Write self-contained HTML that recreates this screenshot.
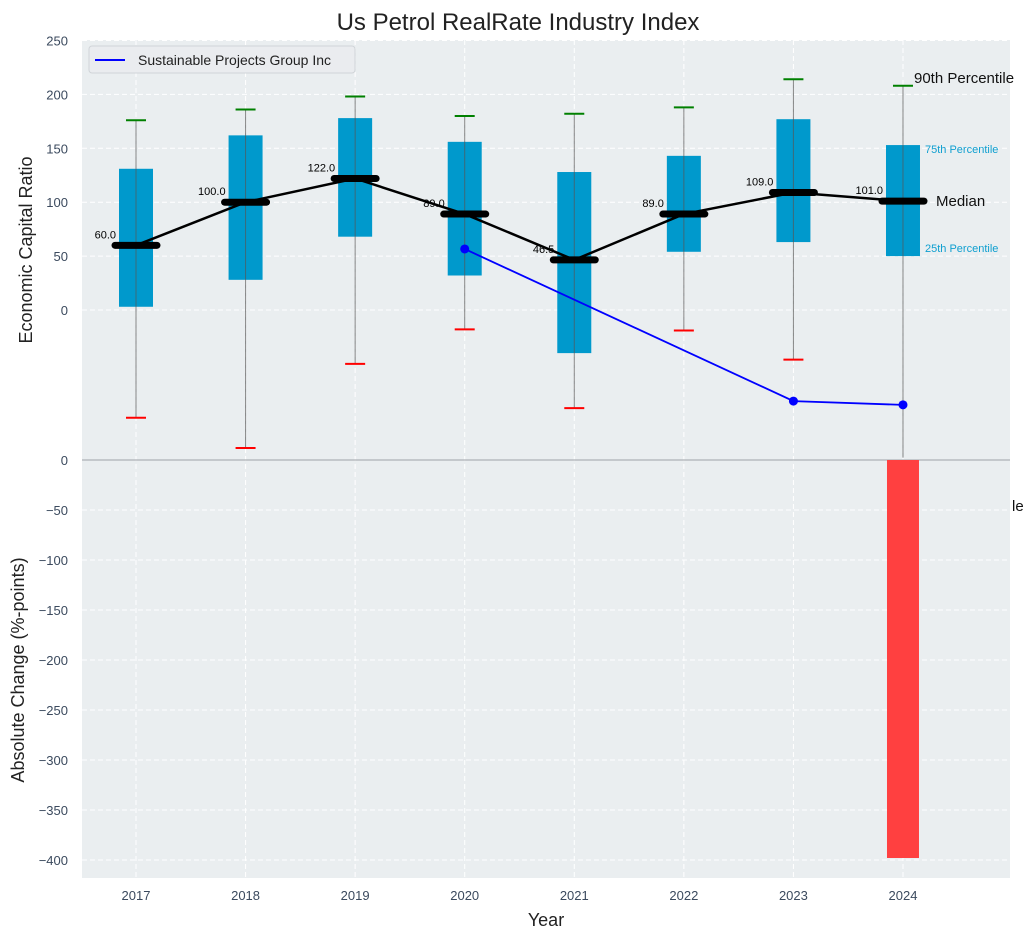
<!DOCTYPE html>
<html><head><meta charset="utf-8">
<style>
body{margin:0;background:#fff;font-family:"Liberation Sans",sans-serif;}
svg text{font-family:"Liberation Sans",sans-serif;}
</style></head>
<body>
<svg id="chart" width="1034" height="940" xmlns="http://www.w3.org/2000/svg">
<text x="518" y="30" text-anchor="middle" font-size="24" fill="#222">Us Petrol RealRate Industry Index</text>
<rect x="82" y="40" width="928" height="420" fill="#eaeef0"/>
<rect x="82" y="460" width="928" height="418" fill="#eaeef0"/>
<g id="grid"></g>
<g id="marks"></g>
<text transform="translate(32,250) rotate(-90)" text-anchor="middle" font-size="18" fill="#222">Economic Capital Ratio</text>
<text transform="translate(24,670) rotate(-90)" text-anchor="middle" font-size="18" fill="#222">Absolute Change (%-points)</text>
<text x="546" y="926" text-anchor="middle" font-size="18" fill="#222">Year</text>
<g>
<rect x="89" y="46" width="266" height="27" rx="3" fill="#eaecef" stroke="#d0d4d8"/>
<line x1="95" y1="60" x2="125" y2="60" stroke="#0000ff" stroke-width="2"/>
<text x="138" y="65" font-size="14" fill="#222">Sustainable Projects Group Inc</text>
</g>
<text x="914" y="83" font-size="15" fill="#111">90th Percentile</text>
<text x="925" y="153" font-size="11" fill="#0f9fd0">75th Percentile</text>
<text x="936" y="206" font-size="15" fill="#111">Median</text>
<text x="925" y="252" font-size="11" fill="#0f9fd0">25th Percentile</text>
<text x="1012" y="511" font-size="15" fill="#111">le</text>
</svg>
<script>
const years=[2017,2018,2019,2020,2021,2022,2023,2024];
const p90=[176,186,198,180,182,188,214,208];
const p75=[131,162,178,156,128,143,177,153];
const median=[60,100,122,89,46.5,89,109,101];
const p25=[3,28,68,32,-40,54,63,50];
const p10=[-100,-128,-50,-18,-91,-19,-46,null];
const companyYears=[2020,2023,2024];
const companyValues=[56.6,-84.5,-88];
const changeYears=[2024];
const changeValues=[-398];
const topTicks=[0,50,100,150,200,250];
const bottomTicks=[0,-50,-100,-150,-200,-250,-300,-350,-400];

const NS="http://www.w3.org/2000/svg";
const X=y=>136+(y-2017)*109.57;
const YT=v=>310-v*1.078;
const YB=v=>460-v*1.0;
const grid=document.getElementById('grid'),marks=document.getElementById('marks');
function mk(tag,attrs,parent){const e=document.createElementNS(NS,tag);for(const k in attrs)e.setAttribute(k,attrs[k]);parent.appendChild(e);return e;}

topTicks.forEach(t=>{
 const l=mk('line',{x1:82,x2:1010,y1:YT(t),y2:YT(t),stroke:'#fff','stroke-dasharray':'5,3','stroke-width':1},grid);
 
 
 const tx=mk('text',{x:68,y:YT(t)+5,'text-anchor':'end','font-size':13,fill:'#3b4a5e'},grid);tx.textContent=t;
 
 
});
bottomTicks.forEach(t=>{
 const l=mk('line',{x1:82,x2:1010,y1:YB(t),y2:YB(t),stroke:'#fff','stroke-dasharray':'5,3','stroke-width':1},grid);
 
 
 const tx=mk('text',{x:68,y:YB(t)+5,'text-anchor':'end','font-size':13,fill:'#3b4a5e'},grid);tx.textContent=t===0?'0':'\u2212'+Math.abs(t);
 
 
});
years.forEach(y=>{
 const l=mk('line',{x1:X(y),x2:X(y),y1:40,y2:878,stroke:'#fff','stroke-dasharray':'5,3','stroke-width':1},grid);
 
 
 const tx=mk('text',{x:X(y),y:900,'text-anchor':'middle','font-size':13,fill:'#3b4a5e'},grid);tx.textContent=y;
 
 
});
const zl=mk('line',{x1:82,x2:1010,y1:460,y2:460,stroke:'#b8bcc0','stroke-width':1.5},grid);



changeValues.forEach((v,i)=>{
 const x=X(changeYears[i]);
 const r=mk('rect',{x:x-16,y:Math.min(YB(0),YB(v)),width:32,height:Math.abs(YB(v)-YB(0)),fill:'#ff4040'},marks);
 
 
});

years.forEach((y,i)=>{
 const x=X(y);
 const bottom=p10[i]===null?YT(-137):YT(p10[i]);
 const b=mk('rect',{x:x-17,y:YT(p75[i]),width:34,height:YT(p25[i])-YT(p75[i]),fill:'#0099cc'},marks);
 
 
 const w=mk('line',{x1:x,x2:x,y1:YT(p90[i]),y2:bottom,stroke:'#555','stroke-width':1,'stroke-opacity':0.7},marks);
 
 
 const c1=mk('line',{x1:x-10,x2:x+10,y1:YT(p90[i]),y2:YT(p90[i]),stroke:'#008000','stroke-width':2},marks);
 
 
 if(p10[i]!==null){
  const c2=mk('line',{x1:x-10,x2:x+10,y1:YT(p10[i]),y2:YT(p10[i]),stroke:'#ff0000','stroke-width':2},marks);
  
  
 }
});
const mline=mk('polyline',{points:years.map((y,i)=>X(y)+','+YT(median[i])).join(' '),fill:'none',stroke:'#000','stroke-width':2.5},marks);


years.forEach((y,i)=>{
 const x=X(y);
 const m=mk('line',{x1:x-21,x2:x+21,y1:YT(median[i]),y2:YT(median[i]),stroke:'#000','stroke-width':7,'stroke-linecap':'round'},marks);
 
 
 const t=mk('text',{x:x-20,y:YT(median[i])-7,'text-anchor':'end','font-size':11,fill:'#000'},marks);
 t.textContent=median[i].toFixed(1);
 
 
});
const cl=mk('polyline',{points:companyYears.map((y,i)=>X(y)+','+YT(companyValues[i])).join(' '),fill:'none',stroke:'#0000ff','stroke-width':1.8},marks);


companyYears.forEach((y,i)=>{
 const p=mk('circle',{cx:X(y),cy:YT(companyValues[i]),r:4.5,fill:'#0000ff'},marks);
 
 
});
</script>
</body></html>
